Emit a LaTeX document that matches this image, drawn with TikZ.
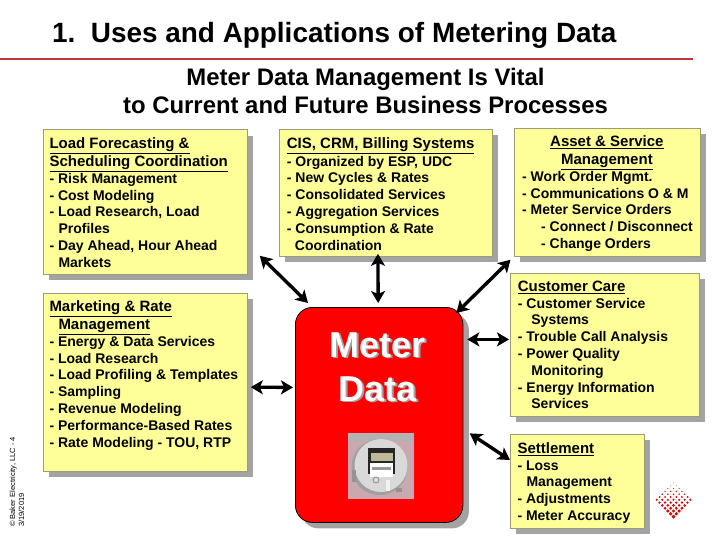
\documentclass[tikz,border=0pt]{standalone}
\usepackage{fontspec}
\setmainfont{Liberation Sans}
\usetikzlibrary{calc,shadows,arrows.meta}
\definecolor{noteyellow}{HTML}{FFFF99}
\definecolor{noteedge}{HTML}{9C9C78}
\definecolor{shadowgray}{HTML}{A3A3A3}
\definecolor{ruled}{HTML}{C8323A}
\definecolor{photopink}{HTML}{C9A9AE}
\newcommand{\hd}[1]{{\fontsize{15}{16.8}\selectfont\underline{#1}}}
\newcommand{\ind}[1]{\hspace*{#1pt}}
\tikzset{
  every node/.style={inner sep=0pt},
  notebox/.style={draw=noteedge,fill=noteyellow,line width=.8pt,anchor=north west,
    drop shadow={shadow xshift=6pt,shadow yshift=-6pt,fill=shadowgray,opacity=1}},
  notetext/.style={anchor=north west,align=left,
    font=\bfseries\fontsize{14}{16.8}\selectfont,
    execute at begin node={\rule{0pt}{12pt}}},
  link/.style={{Stealth[length=12pt,width=14pt,inset=3pt]}-{Stealth[length=12pt,width=14pt,inset=3pt]},line width=3.4pt}
}
\begin{document}
\begin{tikzpicture}[x=1pt,y=-1pt]
  \useasboundingbox (0,0) rectangle (720,540);
  % heading
  \node[anchor=base west,font=\bfseries\fontsize{27.9}{28}\selectfont] (title) at (52,43) {1.\ \ Uses and Applications of Metering Data};
  \coordinate (ruleL) at (0,59);
  \coordinate (ruleR) at (693,59);
  \draw[ruled,line width=1.6pt] (ruleL) -- (ruleR);
  \node[anchor=base,align=center,font=\bfseries\fontsize{23.9}{28}\selectfont] (sub) at (365.5,114) {Meter Data Management Is Vital\\to Current and Future Business Processes};
  % boxes
  \node[notebox,minimum width=204pt,minimum height=144.5pt] (load) at (42.5,129.5) {};
  \node[notebox,minimum width=213pt,minimum height=127pt] (cis) at (279,129) {};
  \node[notebox,minimum width=186pt,minimum height=128pt] (asset) at (513.5,128) {};
  \node[notebox,minimum width=204pt,minimum height=178.5pt] (market) at (42.5,292.5) {};
  \node[notebox,minimum width=188.5pt,minimum height=143pt] (care) at (510,272.5) {};
  \node[notebox,minimum width=134pt,minimum height=94pt] (settle) at (510,434) {};
  \node[notetext] (loadtext) at (49.3,137.7) {\hd{Load Forecasting \&}\\[1pt]\hd{Scheduling Coordination}\\- Risk Management\\- Cost Modeling\\- Load Research, Load\\\ind{9}Profiles\\- Day Ahead, Hour Ahead\\\ind{9}Markets};
  \node[notetext] (cistext) at (286.7,137.7) {\hd{CIS, CRM, Billing Systems}\\[.5pt]- Organized by ESP, UDC\\- New Cycles \& Rates\\- Consolidated Services\\- Aggregation Services\\- Consumption \& Rate\\\ind{8}Coordination};
  \node[notetext] (assettext) at (522,135.7) {\makebox[169.4pt]{\hd{Asset \& Service}}\\[1pt]\makebox[169.4pt]{\hd{Management}}\\- Work Order Mgmt.\\- Communications O \& M\\- Meter Service Orders\\\ind{19}- Connect / Disconnect\\\ind{19}- Change Orders};
  \node[notetext] (markettext) at (49.3,300.7) {\hd{Marketing \& Rate}\\[1pt]\ind{9}\hd{Management}\\- Energy \& Data Services\\- Load Research\\- Load Profiling \& Templates\\- Sampling\\- Revenue Modeling\\- Performance-Based Rates\\- Rate Modeling - TOU, RTP};
  \node[notetext] (caretext) at (517.7,280.7) {\hd{Customer Care}\\- Customer Service\\\ind{13.5}Systems\\- Trouble Call Analysis\\- Power Quality\\\ind{13.5}Monitoring\\- Energy Information\\\ind{13.5}Services};
  \node[notetext] (settletext) at (517.3,442.3) {\hd{Settlement}\\- Loss\\\ind{9}Management\\- Adjustments\\- Meter Accuracy};
  % meter
  \node[draw=black,fill=red,rounded corners=17pt,line width=.8pt,anchor=north west,minimum width=167.5pt,minimum height=215pt,
    drop shadow={shadow xshift=6pt,shadow yshift=-6pt,fill=shadowgray,opacity=1}] (meter) at (295,307) {};
  \node[anchor=base,align=center,text=shadowgray,font=\bfseries\fontsize{36}{44}\selectfont] (metershade) at (379.3,402.5) {Meter\\Data};
  \node[anchor=base,align=center,text=white,font=\bfseries\fontsize{36}{44}\selectfont] (metertext) at (378,401) {Meter\\Data};
  % photo
  \fill[photopink] (347.7,433) rectangle (414,499);
  \fill[gray!60] (347.7,433) rectangle (414,441);
  \fill[gray!75] (379.5,467) circle (28);
  \fill[gray!30] (381,465.5) circle (26.5);
  \fill[black!85] (368,448) rectangle (395,474);
  \fill[olive!30!gray!60] (370.5,453) rectangle (392.5,461);
  \fill[white] (370,463) rectangle (393,477);
  \fill[gray!80] (372,467) rectangle (391,470);
  \fill[gray!85] (352,470) rectangle (356,482);
  \fill[gray!85] (396,488) rectangle (402,492);
  \fill[white!90!gray] (386,480) rectangle (390,491);
  \draw[gray!80,line width=1pt] (376,480) circle (3);
  % arrows
  \coordinate (loadport) at ($(load.south east)+(12.5,-19)$);
  \coordinate (meterNW) at ($(meter.north west)+(13,-4)$);
  \coordinate (cisport) at ($(cis.south)+(-8,-3)$);
  \coordinate (meterN) at ($(meter.north)+(-1,-4)$);
  \coordinate (assetport) at ($(asset.south west)+(-3,3)$);
  \coordinate (meterNE) at ($(meter.north east)+(-7,6)$);
  \coordinate (marketport) at ($(market.east)+(3.5,5)$);
  \coordinate (meterW) at ($(meter.west)+(-2,-27.5)$);
  \coordinate (careport) at ($(care.west)+(-1,-5)$);
  \coordinate (meterE) at ($(meter.east)+(4,-75.5)$);
  \coordinate (settleport) at ($(settle.north west)+(0,26)$);
  \coordinate (meterSE) at ($(meter.east)+(6.5,18.5)$);
  \draw[link] (loadport) -- (meterNW);
  \draw[link] (cisport) -- (meterN);
  \draw[link] (assetport) -- (meterNE);
  \draw[link] (marketport) -- (meterW);
  \draw[link] (careport) -- (meterE);
  \draw[link] (settleport) -- (meterSE);
  % side note
  \node[rotate=90,anchor=base west,font=\fontsize{7.5}{8}\selectfont] (copy) at (15,527) {\textcopyright{} Baker Electricity, LLC - 4};
  \node[rotate=90,anchor=base west,font=\fontsize{7.5}{8}\selectfont] (date) at (24,527) {3/19/2019};
  % logo
  \foreach \i in {0,...,6}
    \foreach \j in {0,...,6}
      \fill[red!85!black] ($(673.5,483)+({(\i-\j)*2.8},{(\i+\j)*2.8})$) circle ({.3+(\i+\j)*.14});
\end{tikzpicture}
\end{document}
